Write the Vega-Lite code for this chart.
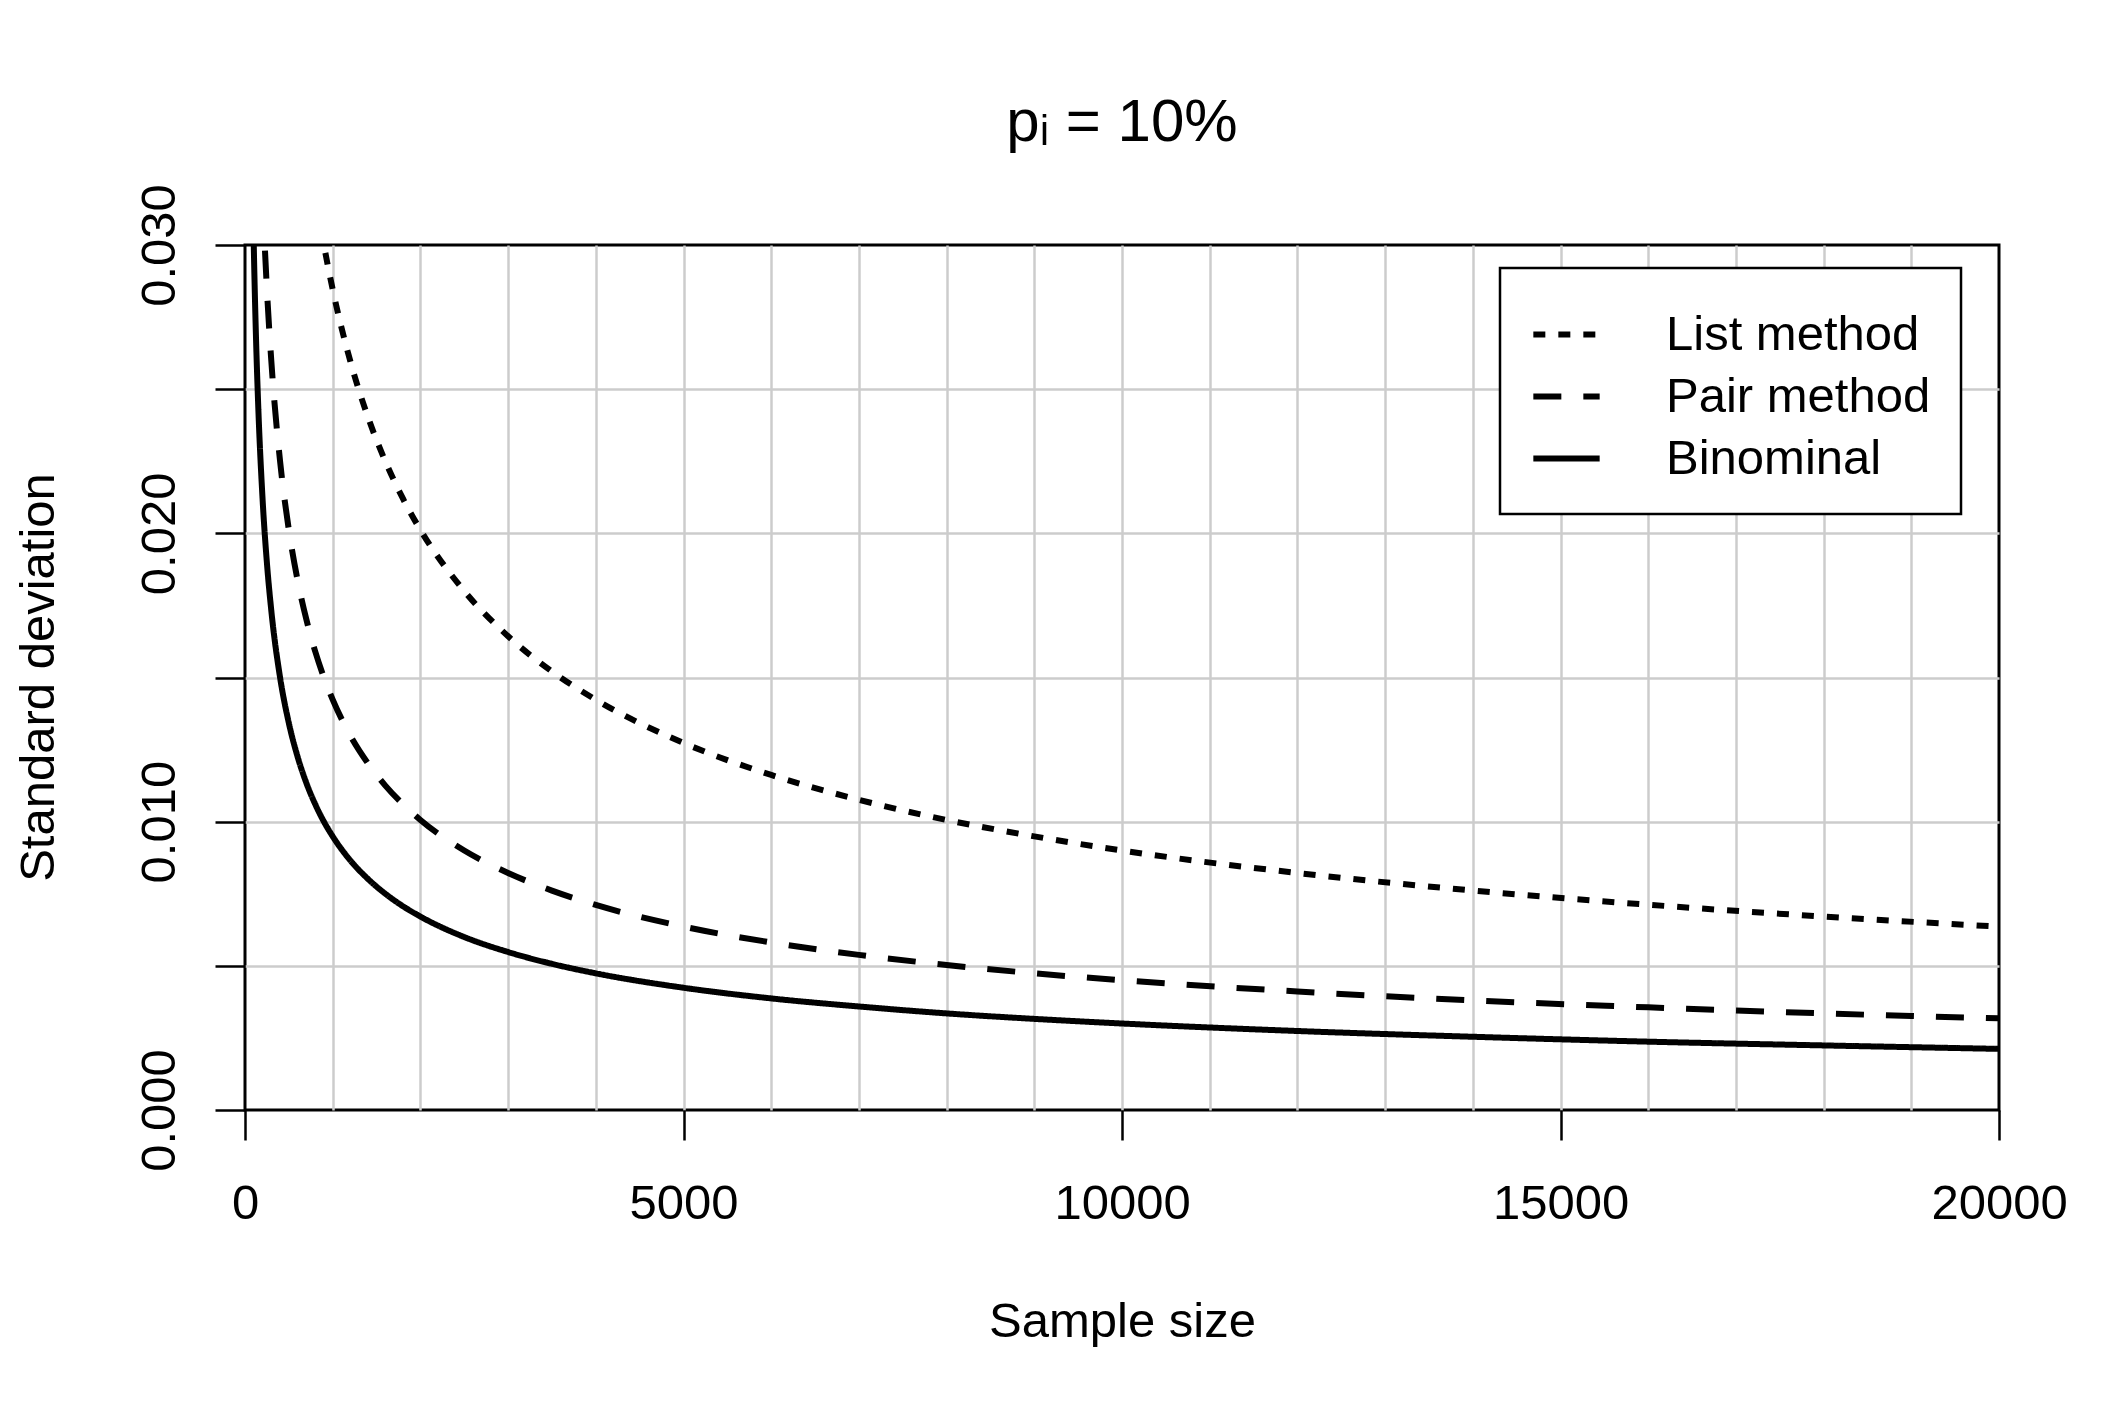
{
  "$schema": "https://vega.github.io/schema/vega-lite/v6.json",
  "autosize": {"type": "none"},
  "width": 1754,
  "height": 865,
  "padding": {"left": 245, "top": 245, "right": 126, "bottom": 307},
  "background": "white",
  "title": {
    "text": "pᵢ = 10%",
    "font": "Liberation Sans",
    "fontSize": 60,
    "fontWeight": "normal",
    "color": "black",
    "anchor": "middle",
    "frame": "group",
    "baseline": "alphabetic",
    "offset": -17
  },
  "data": {
    "values": [
      {"n": 80, "sd": 0.03354, "method": "Binominal"},
      {"n": 100, "sd": 0.03, "method": "Binominal"},
      {"n": 125, "sd": 0.02683, "method": "Binominal"},
      {"n": 150, "sd": 0.02449, "method": "Binominal"},
      {"n": 200, "sd": 0.02121, "method": "Binominal"},
      {"n": 250, "sd": 0.01897, "method": "Binominal"},
      {"n": 300, "sd": 0.01732, "method": "Binominal"},
      {"n": 400, "sd": 0.015, "method": "Binominal"},
      {"n": 500, "sd": 0.01342, "method": "Binominal"},
      {"n": 600, "sd": 0.01225, "method": "Binominal"},
      {"n": 700, "sd": 0.01134, "method": "Binominal"},
      {"n": 800, "sd": 0.01061, "method": "Binominal"},
      {"n": 900, "sd": 0.01, "method": "Binominal"},
      {"n": 1000, "sd": 0.00949, "method": "Binominal"},
      {"n": 1200, "sd": 0.00866, "method": "Binominal"},
      {"n": 1400, "sd": 0.00802, "method": "Binominal"},
      {"n": 1600, "sd": 0.0075, "method": "Binominal"},
      {"n": 1800, "sd": 0.00707, "method": "Binominal"},
      {"n": 2000, "sd": 0.00671, "method": "Binominal"},
      {"n": 2500, "sd": 0.006, "method": "Binominal"},
      {"n": 3000, "sd": 0.00548, "method": "Binominal"},
      {"n": 3500, "sd": 0.00507, "method": "Binominal"},
      {"n": 4000, "sd": 0.00474, "method": "Binominal"},
      {"n": 5000, "sd": 0.00424, "method": "Binominal"},
      {"n": 6000, "sd": 0.00387, "method": "Binominal"},
      {"n": 7000, "sd": 0.00359, "method": "Binominal"},
      {"n": 8000, "sd": 0.00335, "method": "Binominal"},
      {"n": 9000, "sd": 0.00316, "method": "Binominal"},
      {"n": 10000, "sd": 0.003, "method": "Binominal"},
      {"n": 12000, "sd": 0.00274, "method": "Binominal"},
      {"n": 14000, "sd": 0.00254, "method": "Binominal"},
      {"n": 16000, "sd": 0.00237, "method": "Binominal"},
      {"n": 18000, "sd": 0.00224, "method": "Binominal"},
      {"n": 20000, "sd": 0.00212, "method": "Binominal"},
      {"n": 150, "sd": 0.03674, "method": "Pair method"},
      {"n": 200, "sd": 0.03182, "method": "Pair method"},
      {"n": 250, "sd": 0.02846, "method": "Pair method"},
      {"n": 300, "sd": 0.02598, "method": "Pair method"},
      {"n": 400, "sd": 0.0225, "method": "Pair method"},
      {"n": 500, "sd": 0.02012, "method": "Pair method"},
      {"n": 600, "sd": 0.01837, "method": "Pair method"},
      {"n": 700, "sd": 0.01701, "method": "Pair method"},
      {"n": 800, "sd": 0.01591, "method": "Pair method"},
      {"n": 900, "sd": 0.015, "method": "Pair method"},
      {"n": 1000, "sd": 0.01423, "method": "Pair method"},
      {"n": 1200, "sd": 0.01299, "method": "Pair method"},
      {"n": 1400, "sd": 0.01203, "method": "Pair method"},
      {"n": 1600, "sd": 0.01125, "method": "Pair method"},
      {"n": 1800, "sd": 0.01061, "method": "Pair method"},
      {"n": 2000, "sd": 0.01006, "method": "Pair method"},
      {"n": 2500, "sd": 0.009, "method": "Pair method"},
      {"n": 3000, "sd": 0.00822, "method": "Pair method"},
      {"n": 3500, "sd": 0.00761, "method": "Pair method"},
      {"n": 4000, "sd": 0.00711, "method": "Pair method"},
      {"n": 5000, "sd": 0.00636, "method": "Pair method"},
      {"n": 6000, "sd": 0.00581, "method": "Pair method"},
      {"n": 7000, "sd": 0.00538, "method": "Pair method"},
      {"n": 8000, "sd": 0.00503, "method": "Pair method"},
      {"n": 9000, "sd": 0.00474, "method": "Pair method"},
      {"n": 10000, "sd": 0.0045, "method": "Pair method"},
      {"n": 12000, "sd": 0.00411, "method": "Pair method"},
      {"n": 14000, "sd": 0.0038, "method": "Pair method"},
      {"n": 16000, "sd": 0.00356, "method": "Pair method"},
      {"n": 18000, "sd": 0.00335, "method": "Pair method"},
      {"n": 20000, "sd": 0.00318, "method": "Pair method"},
      {"n": 700, "sd": 0.03402, "method": "List method"},
      {"n": 800, "sd": 0.03182, "method": "List method"},
      {"n": 900, "sd": 0.03, "method": "List method"},
      {"n": 1000, "sd": 0.02846, "method": "List method"},
      {"n": 1200, "sd": 0.02598, "method": "List method"},
      {"n": 1400, "sd": 0.02405, "method": "List method"},
      {"n": 1600, "sd": 0.0225, "method": "List method"},
      {"n": 1800, "sd": 0.02121, "method": "List method"},
      {"n": 2000, "sd": 0.02012, "method": "List method"},
      {"n": 2500, "sd": 0.018, "method": "List method"},
      {"n": 3000, "sd": 0.01643, "method": "List method"},
      {"n": 3500, "sd": 0.01521, "method": "List method"},
      {"n": 4000, "sd": 0.01423, "method": "List method"},
      {"n": 5000, "sd": 0.01273, "method": "List method"},
      {"n": 6000, "sd": 0.01162, "method": "List method"},
      {"n": 7000, "sd": 0.01076, "method": "List method"},
      {"n": 8000, "sd": 0.01006, "method": "List method"},
      {"n": 9000, "sd": 0.00949, "method": "List method"},
      {"n": 10000, "sd": 0.009, "method": "List method"},
      {"n": 12000, "sd": 0.00822, "method": "List method"},
      {"n": 14000, "sd": 0.00761, "method": "List method"},
      {"n": 16000, "sd": 0.00712, "method": "List method"},
      {"n": 18000, "sd": 0.00671, "method": "List method"},
      {"n": 20000, "sd": 0.00636, "method": "List method"}
    ]
  },
  "mark": {"type": "line", "clip": true, "interpolate": "monotone", "strokeWidth": 6, "color": "black"},
  "encoding": {
    "x": {
      "field": "n",
      "type": "quantitative",
      "scale": {"domain": [0, 20000], "nice": false},
      "axis": {
        "title": "Sample size",
        "values": [0, 1000, 2000, 3000, 4000, 5000, 6000, 7000, 8000, 9000, 10000, 11000, 12000, 13000, 14000, 15000, 16000, 17000, 18000, 19000, 20000],
        "format": "d",
        "labelExpr": "datum.value % 5000 === 0 ? datum.label : ''",
        "tickOpacity": {"expr": "datum.value % 5000 === 0 ? 1 : 0"},
        "gridOpacity": {"expr": "datum.value === 0 || datum.value === 20000 ? 0 : 1"},
        "labelFlush": false,
        "labelOverlap": false,
        "labelBaseline": "middle",
        "labelPadding": 63,
        "titleX": 877,
        "titleY": 211,
        "titleBaseline": "middle",
        "titleAnchor": "middle"
      }
    },
    "y": {
      "field": "sd",
      "type": "quantitative",
      "scale": {"domain": [0, 0.03], "nice": false},
      "axis": {
        "title": "Standard deviation",
        "values": [0, 0.005, 0.01, 0.015, 0.02, 0.025, 0.03],
        "format": ".3f",
        "labelExpr": "round(datum.value * 1000) % 10 === 0 ? datum.label : ''",
        "gridOpacity": {"expr": "datum.value === 0 || datum.value >= 0.03 ? 0 : 1"},
        "labelAngle": 270,
        "labelAlign": "center",
        "labelBaseline": "middle",
        "labelPadding": 56,
        "labelFlush": false,
        "labelOverlap": false,
        "titleAngle": 270,
        "titleX": -207,
        "titleY": 432,
        "titleBaseline": "middle",
        "titleAlign": "center"
      }
    },
    "strokeDash": {
      "field": "method",
      "type": "nominal",
      "scale": {
        "domain": ["List method", "Pair method", "Binominal"],
        "range": [[12, 13], [28, 22], [1, 0]]
      },
      "legend": {
        "title": null,
        "orient": "none",
        "legendX": 1255,
        "legendY": 23,
        "symbolType": "stroke",
        "symbolSize": 4400,
        "symbolStrokeWidth": 6,
        "symbolStrokeColor": "black",
        "labelFont": "Liberation Sans",
        "labelFontSize": 49,
        "labelColor": "black",
        "labelLimit": 0,
        "labelOffset": 63,
        "rowPadding": 0,
        "padding": 30,
        "strokeColor": "black",
        "fillColor": "white",
        "encode": {"legend": {"update": {"strokeWidth": {"value": 2.5}}}}
      }
    }
  },
  "config": {
    "view": {"stroke": "black", "strokeWidth": 3},
    "axis": {
      "domain": false,
      "grid": true,
      "gridColor": "#cccccc",
      "gridWidth": 2.5,
      "ticks": true,
      "tickSize": 30,
      "tickColor": "black",
      "tickWidth": 2.5,
      "labelFont": "Liberation Sans",
      "labelFontSize": 49,
      "labelColor": "black",
      "titleFont": "Liberation Sans",
      "titleFontSize": 49,
      "titleFontWeight": "normal",
      "titleColor": "black"
    }
  }
}
